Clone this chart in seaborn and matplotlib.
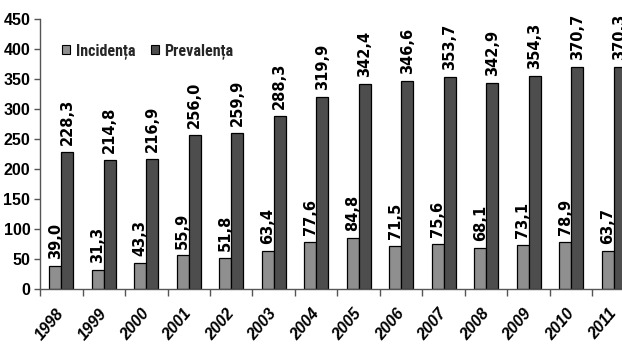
import matplotlib
matplotlib.use("Agg")
import matplotlib.pyplot as plt
import seaborn as sns
import pandas as pd
import numpy as np
from matplotlib.ticker import FixedLocator, NullFormatter

years = ["1998", "1999", "2000", "2001", "2002", "2003", "2004",
         "2005", "2006", "2007", "2008", "2009", "2010", "2011"]
incidenta = [39.0, 31.3, 43.3, 55.9, 51.8, 63.4, 77.6,
             84.8, 71.5, 75.6, 68.1, 73.1, 78.9, 63.7]
prevalenta = [228.3, 214.8, 216.9, 256.0, 259.9, 288.3, 319.9,
              342.4, 346.6, 353.7, 342.9, 354.3, 370.7, 370.3]
series_names = ["Incidența", "Prevalența"]

df = pd.DataFrame({
    "An": years * 2,
    "Valoare": incidenta + prevalenta,
    "Indicator": [series_names[0]] * len(years) + [series_names[1]] * len(years),
})

sns.set_theme(style="white")
plt.rcParams["font.family"] = ["Liberation Sans", "DejaVu Sans"]
plt.rcParams["font.weight"] = "bold"
plt.rcParams["xtick.color"] = "#555555"
plt.rcParams["ytick.color"] = "#555555"
plt.rcParams["xtick.labelcolor"] = "black"
plt.rcParams["ytick.labelcolor"] = "black"

W, H = 622, 347
fig = plt.figure(figsize=(W / 100, H / 100), dpi=100)
# plot area runs past the right edge of the figure
ax_left, ax_bottom, ax_top = 40, 289, 19
ax_width = 14 * 42.5
ax = fig.add_axes([ax_left / W, (H - ax_bottom) / H,
                   ax_width / W, (ax_bottom - ax_top) / H])

palette = {series_names[0]: "#8f8f8f", series_names[1]: "#4d4d4d"}
sns.barplot(data=df, x="An", y="Valoare", hue="Indicator", palette=palette,
            width=0.565, gap=0, edgecolor="black", linewidth=0.9,
            saturation=1, ax=ax, legend=True)

ax.set_xlim(-0.5, len(years) - 0.5)
ax.set_ylim(0, 450)
ax.set_xlabel("")
ax.set_ylabel("")

for side in ["top", "right"]:
    ax.spines[side].set_visible(False)
for side in ["left", "bottom"]:
    ax.spines[side].set_color("#555555")
    ax.spines[side].set_linewidth(1.0)

# value labels above each bar
for cont in ax.containers:
    labels = [f"{b.get_height():.1f}".replace(".", ",") for b in cont]
    ax.bar_label(cont, labels=labels, rotation=90, padding=5,
                 fontsize=10.5, fontweight="bold", family="DejaVu Sans",
                 color="black")

# y axis ticks
ax.set_yticks(np.arange(0, 451, 50))
ax.set_yticklabels([str(v) for v in range(0, 451, 50)],
                   fontsize=11.5, fontweight="bold")
ax.tick_params(axis="y", which="major", left=True, length=4, width=1, pad=3)

# x axis: tick marks between categories, labels at centers
ax.set_xticks(range(len(years)))
ax.set_xticklabels(years, rotation=50, ha="right", va="center",
                   rotation_mode="anchor", fontsize=11.5,
                   fontweight="bold", fontstyle="italic")
ax.xaxis.set_minor_locator(FixedLocator(np.arange(-0.5, len(years), 1.0)))
ax.xaxis.set_minor_formatter(NullFormatter())
ax.tick_params(axis="x", which="minor", bottom=True, length=5, width=1)
ax.tick_params(axis="x", which="major", bottom=False, length=0, pad=16)

leg = ax.legend(loc="center left", bbox_to_anchor=(54 / W, 1 - 51 / H),
                bbox_transform=fig.transFigure, ncol=2, frameon=False,
                handlelength=0.5, handleheight=0.5, handletextpad=0.35,
                columnspacing=1.0, borderpad=0,
                prop={"family": ["Liberation Sans Narrow", "Roboto Condensed",
                                 "Roboto", "DejaVu Sans"],
                      "weight": "bold", "size": 11.5})
for h in leg.legend_handles:
    h.set_edgecolor("black")
    h.set_linewidth(0.8)

fig.savefig("out.png", dpi=100, facecolor="white")
